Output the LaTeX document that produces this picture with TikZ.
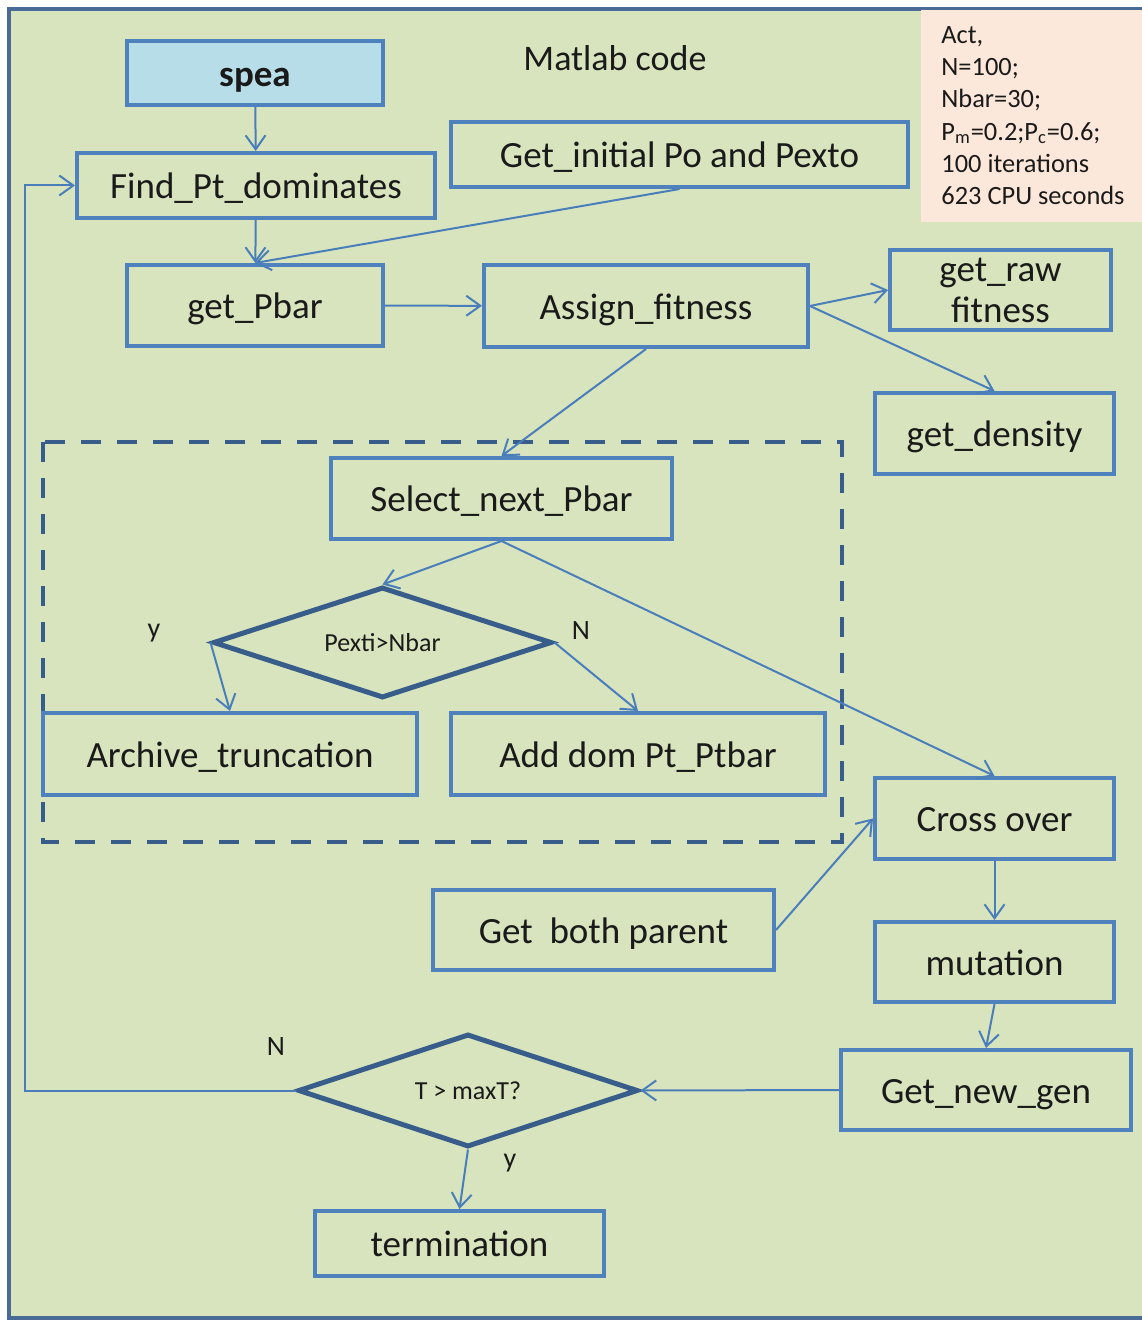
\documentclass[tikz,border=0pt]{standalone}
\usepackage{fontspec}
\setmainfont{Carlito}
\usetikzlibrary{arrows.meta,shapes.geometric}

\definecolor{panel}{HTML}{D7E4BD}
\definecolor{framec}{HTML}{4A6B96}
\definecolor{boxc}{HTML}{4F81BD}
\definecolor{darkc}{HTML}{385D8A}
\definecolor{linkc}{HTML}{4A7EBB}
\definecolor{notec}{HTML}{FCE8DA}
\definecolor{startc}{HTML}{B7DEE8}
\definecolor{inkc}{HTML}{1A1A1A}

\tikzset{
  stepbase/.style={draw=boxc, line width=2pt, rectangle, inner sep=0pt,
    font=\fontsize{18.5}{21.5}\selectfont, text=inkc, align=center},
  stepbox/.style={stepbase, text height=16pt, text depth=2.8pt},
  decision/.style={draw=darkc, line width=2.5pt, diamond, aspect=3.05, inner sep=0pt,
    font=\fontsize{13}{15}\selectfont, text=inkc},
  link/.style={draw=linkc, line width=1pt,
    -{Straight Barb[length=7pt,width=10pt,line width=1pt]}},
  tag/.style={font=\fontsize{14}{16}\selectfont, text=inkc, inner sep=0pt},
}

\begin{document}
\begin{tikzpicture}[x=0.5pt, y=-0.5pt]
\useasboundingbox (0,0) rectangle (1141,1321);

% panel
\fill[white] (0,0) rectangle (1141,1321);
\filldraw[fill=panel, draw=framec, line width=2pt] (9,9) rectangle (1160,1318);

% parameter note
\fill[notec] (921,10) rectangle (1145,222);
\node[anchor=north west, inner sep=0pt, align=left, text=inkc,
      font=\fontsize{13.2}{16.15}\selectfont] (note) at (941,26)
  {Act,\\N=100;\\Nbar=30;\\P\textsubscript{m}=0.2;P\textsubscript{c}=0.6;\\100 iterations\\623 CPU seconds};

\node[inner sep=0pt, text=inkc, font=\fontsize{18}{20}\selectfont] (title) at (615,58) {Matlab code};

% dashed group
\draw[darkc, line width=2pt, dash pattern=on 10pt off 8pt] (43,442) rectangle (842,842);

% steps
\node[stepbox, fill=startc, minimum width=128pt, minimum height=32pt, font=\fontsize{18.5}{21.5}\selectfont\bfseries] (spea) at (255,73) {spea};
\node[stepbox, minimum width=179pt, minimum height=32.5pt] (find) at (256,185.5) {Find\_Pt\_dominates};
\node[stepbox, minimum width=228.5pt, minimum height=32.5pt] (init) at (679.5,154.5) {Get\_initial Po and Pexto};
\node[stepbox, minimum width=128pt, minimum height=40.5pt] (pbar) at (255,305.5) {get\_Pbar};
\node[stepbox, minimum width=162pt, minimum height=41pt] (assign) at (646,306) {Assign\_fitness};
\node[stepbase, minimum width=110.5pt, minimum height=40pt] (raw) at (1000.5,290) {get\_raw\\[-1pt]fitness};
\node[stepbox, minimum width=119.5pt, minimum height=40.5pt] (density) at (994.5,433.5) {get\_density};
\node[stepbox, minimum width=170.5pt, minimum height=40.5pt] (select) at (501.5,498.5) {Select\_next\_Pbar};
\node[decision, minimum width=169.5pt, minimum height=55.5pt] (d1) at (382.5,642.5) {Pexti>Nbar};
\node[stepbox, minimum width=187pt, minimum height=41pt] (archive) at (230,754) {Archive\_truncation};
\node[stepbox, minimum width=187pt, minimum height=41pt] (adddom) at (638,754) {Add dom Pt\_Ptbar};
\node[stepbox, minimum width=119.5pt, minimum height=40.5pt] (cross) at (994.5,818.5) {Cross over};
\node[stepbox, minimum width=170.5pt, minimum height=40pt] (parent) at (603.5,930) {Get\ \ both parent};
\node[stepbox, minimum width=119.5pt, minimum height=40pt] (mutation) at (994.5,962) {mutation};
\node[stepbox, minimum width=145pt, minimum height=40pt] (newgen) at (986,1090) {Get\_new\_gen};
\node[decision, minimum width=170pt, minimum height=56.5pt] (d2) at (468,1090.5) {T > maxT?};
\node[stepbox, minimum width=144.5pt, minimum height=32.5pt] (term) at (459.5,1243.5) {termination};

% branch labels
\node[tag] (y1) at (154,633) {y};
\node[tag] (n1) at (581,631) {N};
\node[tag] (n2) at (276,1047) {N};
\node[tag] (y2) at (510,1163) {y};

% connectors
\draw[link] (spea) -- (find);
\draw[link] (find) -- (pbar);
\draw[link] (init.south) -- (pbar.north);
\draw[link] (pbar) -- (assign);
\draw[link] (assign.east) -- (raw.west);
\draw[link] (assign.east) -- (density.north);
\draw[link] (assign.south) -- (select.north);
\draw[link] (select.south) -- (d1.north);
\draw[link] (select.south) -- (cross.north);
\draw[link] (d1.west) -- (archive.north);
\draw[link] (d1.east) -- (adddom.north);
\draw[link] (parent.east) -- (cross.west);
\draw[link] (cross) -- (mutation);
\draw[link] (mutation.south) -- (newgen.north);
\draw[link] (newgen.west) -- (d2.east);
\draw[link] (d2.south) -- (term.north);
\coordinate (loop) at (25,0);
\draw[link] (d2.west) -- (d2.west -| loop) |- (find.west);
\end{tikzpicture}
\end{document}
